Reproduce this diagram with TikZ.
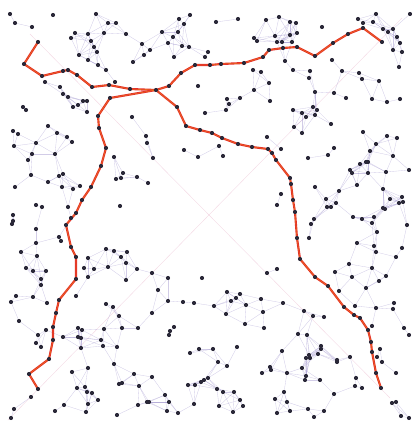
\documentclass[tikz,border=0pt]{standalone}
\usetikzlibrary{positioning}
\definecolor{dotink}{HTML}{2A2838}
\definecolor{linkink}{HTML}{8E80C4}
\definecolor{routeink}{HTML}{E3302A}
\pgfdeclarelayer{bg}
\pgfdeclarelayer{mid}
\pgfsetlayers{bg,mid,main}
\newcount\di
\newcount\dj

\begin{document}
\begin{tikzpicture}[x=0.75pt,y=-0.75pt,
  dot/.style={circle,fill=dotink,inner sep=0pt,minimum size=3.1pt},
  link/.style={draw=linkink,opacity=0.4,line width=0.25pt},
  diag/.style={draw=red!40!violet,opacity=0.15,line width=0.3pt},
  route/.style={draw=routeink,line width=1.6pt,line join=round,line cap=round},
  glow/.style={draw=yellow!60!orange,opacity=0.55,line width=0.25pt,line join=round}]
\useasboundingbox (0,0) rectangle (413,422);
% scattered dots
\foreach \x/\y [count=\i] in {10/14, 53/15, 96/14, 15/23, 32/27, 108/23, 116/23, 75/33, 88/34, 104/33,
  126/34, 71/38, 91/41, 142/44, 162/32, 179/19, 184/24, 190/15, 178/32, 173/37, 168/43, 182/46,
  189/47, 150/50, 144/55, 174/57, 94/47, 97/52, 79/55, 88/60, 98/65, 133/62, 106/70, 45/82, 60/87,
  63/94, 68/97, 115/82, 83/101, 87/101, 78/105, 73/107, 87/112, 132/117, 198/86, 23/107, 26/110,
  13/131, 18/134, 14/146, 48/126, 57/133, 67/137, 72/142, 36/143, 32/154, 28/160, 55/154, 146/136,
  147/143, 153/158, 184/150, 198/157, 114/157, 31/175, 59/176, 63/174, 123/173, 116/179, 121/178,
  137/177, 148/183, 48/182, 15/187, 62/187, 73/189, 80/186,
  216/22, 238/19, 266/20, 279/17, 290/22, 296/23, 322/27, 358/19, 363/23, 373/22, 376/14, 410/14,
  383/29, 388/32, 393/29, 397/37, 400/43, 402/52, 399/67, 393/50, 254/38, 257/41, 275/36, 277/42,
  282/42, 290/35, 292/42, 297/33, 285/61, 208/52, 205/57, 332/60, 253/70, 261/72, 293/70, 310/71,
  309/78, 342/71, 359/73, 362/79, 379/81, 269/83, 254/90, 315/92, 334/93, 240/98, 227/99, 229/104,
  270/101, 346/98, 372/99, 387/102, 400/99, 226/110, 205/113, 293/110, 302/113, 306/117, 313/107,
  317/110, 315/115, 294/127, 302/133, 331/124, 363/132, 387/136, 397/138, 219/146, 223/156,
  267/137, 281/149, 334/148, 328/155, 308/158, 376/144, 393/156, 370/151, 368/162, 366/162,
  360/164, 350/170, 352/173, 368/173, 386/172, 409/170, 357/185, 315/187, 281/194, 339/191,
  326/199, 383/189, 390/199, 402/197,
  36/205, 42/207, 68/207, 120/206, 13/215, 13/221, 12/224, 36/229, 71/218, 59/237, 61/241, 36/243,
  21/252, 37/256, 106/249, 114/251, 127/252, 121/257, 126/263, 137/269, 88/258, 108/267, 94/269,
  84/268, 88/277, 126/280, 152/273, 168/278, 26/268, 33/271, 46/271, 41/279, 41/285, 16/296,
  11/302, 33/297, 47/303, 76/296, 158/290, 168/301, 183/302, 194/303, 106/304, 113/307, 119/316,
  152/313, 19/321, 46/330, 78/328, 82/330, 122/328, 138/328, 104/329, 174/327, 170/331, 169/335,
  38/335, 36/343, 41/347, 63/337, 78/337, 81/338, 101/340, 103/346, 81/348, 117/347, 199/349,
  190/353, 114/364, 72/372, 88/368, 134/374, 152/377, 119/384, 122/383, 139/386, 188/385, 195/385,
  201/382, 204/380, 208/378, 77/388, 85/387, 87/392, 92/393, 98/400, 165/395, 31/397, 169/402,
  147/402, 149/402, 138/405, 194/404, 64/405, 88/404, 14/409, 55/411, 86/412, 117/415, 167/411,
  178/413, 11/418,
  277/205, 327/207, 336/203, 331/207, 383/208, 385/209, 399/203, 403/202, 314/219, 311/224,
  309/238, 353/217, 362/219, 374/217, 372/223, 377/232, 407/225, 357/243, 374/246, 376/252,
  402/248, 396/257, 277/269, 267/273, 202/278, 349/264, 335/272, 352/277, 372/268, 379/281,
  386/276, 366/288, 339/291, 227/292, 240/294, 236/298, 231/301, 261/299, 214/306, 246/305,
  283/303, 226/314, 263/312, 355/306, 376/308, 394/303, 393/309, 304/311, 313/316, 324/317,
  245/324, 264/328, 372/326, 404/328, 409/335, 298/334, 307/335, 213/349, 237/347, 321/346,
  321/349, 318/354, 309/355, 306/358, 310/358, 282/351, 337/360, 337/362, 350/357, 380/349,
  377/357, 382/362, 218/362, 227/366, 270/367, 271/370, 262/373, 287/373, 302/368, 306/376,
  305/380, 320/380, 356/378, 396/373, 355/386, 362/388, 217/389, 223/392, 234/392, 284/392,
  334/394, 392/403, 396/402, 275/399, 240/400, 243/406, 287/402, 219/406, 233/412, 277/413,
  290/411, 308/409, 324/411, 314/417, 401/416, 409/418}{
  \node[dot] (d\i) at (\x,\y) {};
  \expandafter\xdef\csname px\i\endcsname{\x}
  \expandafter\xdef\csname py\i\endcsname{\y}
  \xdef\ndots{\i}
}
% top route
\foreach \x/\y [count=\i] in {38/42, 24/64, 42/76, 63/71, 68/70, 77/75, 92/87, 109/85, 130/89,
  156/90, 169/86, 181/73, 195/65, 210/65, 221/64, 244/63, 263/57, 269/50, 283/48, 297/47, 315/56,
  333/43, 348/34, 363/28, 382/42}
  \node[dot] (t\i) at (\x,\y) {};
% left branch
\foreach \x/\y [count=\i] in {110/98, 98/116, 99/128, 106/148, 101/166, 91/187, 82/200, 76/213,
  66/225, 71/247, 76/257, 76/279, 59/300, 56/313, 53/327, 53/340, 49/359, 29/374, 38/389}
  \node[dot] (l\i) at (\x,\y) {};
% right branch
\foreach \x/\y [count=\i] in {177/107, 186/126, 200/130, 212/133, 222/138, 238/144, 252/147,
  268/149, 272/153, 276/160, 290/178, 291/184, 293/200, 295/212, 297/238, 300/259, 315/277,
  328/286, 344/307, 354/315, 360/318, 368/330, 371/342, 372/352, 376/373, 381/388}
  \node[dot] (b\i) at (\x,\y) {};

\begin{pgfonlayer}{mid}
\draw[route] (t1.center) \foreach \k in {2,...,25}{ -- (t\k.center)};
\draw[route] (t10.center) \foreach \k in {1,...,19}{ -- (l\k.center)};
\draw[route] (t10.center) \foreach \k in {1,...,26}{ -- (b\k.center)};
\draw[glow] (t1.center) \foreach \k in {2,...,25}{ -- (t\k.center)};
\draw[glow] (t10.center) \foreach \k in {1,...,19}{ -- (l\k.center)};
\draw[glow] (t10.center) \foreach \k in {1,...,26}{ -- (b\k.center)};
\end{pgfonlayer}

\begin{pgfonlayer}{bg}
\coordinate (nw) at (30,34);
\coordinate (se) at (390,398);
\coordinate (sw) at (8,420);
\coordinate (ne) at (402,18);
\draw[diag] (nw) -- (se);
\draw[diag] (sw) -- (ne);
% faint links between near dots
\di=1
\loop\ifnum\di<\ndots
  {\dj=\di \advance\dj by 1
   \loop\ifnum\dj<\numexpr\ndots+1\relax
     \ifnum\numexpr(\csname px\the\di\endcsname-\csname px\the\dj\endcsname)*(\csname px\the\di\endcsname-\csname px\the\dj\endcsname)+(\csname py\the\di\endcsname-\csname py\the\dj\endcsname)*(\csname py\the\di\endcsname-\csname py\the\dj\endcsname)<576\relax
       \edef\linkpath{\noexpand\draw[link] (d\the\di) -- (d\the\dj);}\linkpath
     \fi
     \advance\dj by 1
   \repeat}
  \advance\di by 1
\repeat
\end{pgfonlayer}
\end{tikzpicture}
\end{document}
